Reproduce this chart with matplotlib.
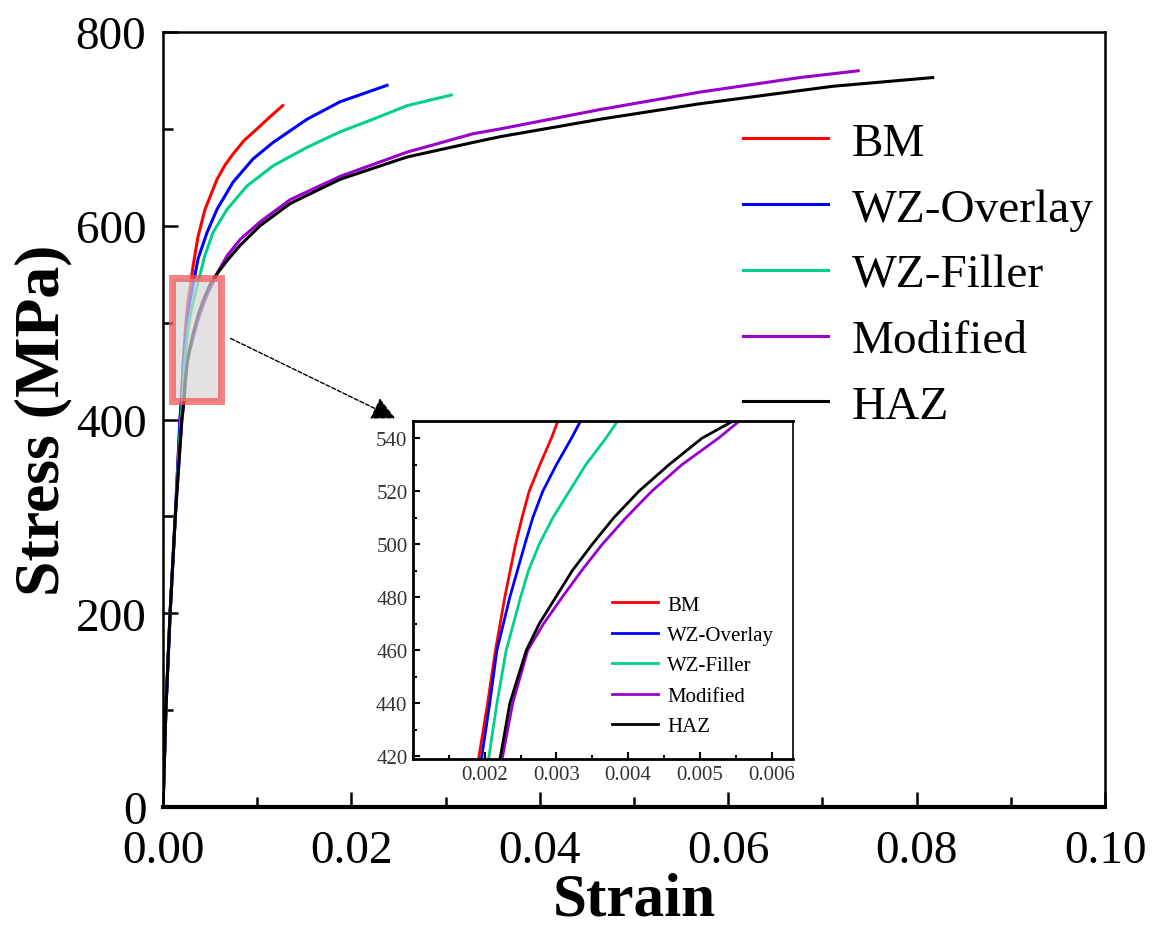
import matplotlib
matplotlib.use("Agg")
import matplotlib.pyplot as plt
from matplotlib.patches import Rectangle
from matplotlib.ticker import MultipleLocator

plt.rcParams['font.family'] = ['Liberation Serif', 'DejaVu Serif']

# series data: strain (-) and stress (MPa)
labels = ['BM', 'WZ-Overlay', 'WZ-Filler', 'Modified', 'HAZ']
colors = ['#ff0000', '#0000ff', '#00d08a', '#9900cc', '#000000']

bm_strain = [0, 0.0003, 0.00075, 0.0013, 0.0018, 0.00192, 0.00204, 0.00215, 0.00228,
             0.00243, 0.00252, 0.00262, 0.00277, 0.00293, 0.00318, 0.00372, 0.00446,
             0.00573, 0.0066, 0.00743, 0.0086, 0.00998, 0.0113, 0.0127]
bm_stress = [0, 100, 200, 300, 400, 420, 440, 460, 480, 500, 510, 520, 530, 540, 558,
             589, 617, 648, 663, 674, 688, 700, 712, 724]

ov_strain = [0, 0.0003, 0.00075, 0.0013, 0.0018, 0.00196, 0.00207, 0.00217, 0.00235,
             0.00256, 0.00267, 0.00281, 0.003, 0.00321, 0.00372, 0.00467, 0.00573,
             0.00743, 0.00955, 0.01168, 0.01529, 0.01879, 0.02378]
ov_stress = [0, 100, 200, 300, 400, 420, 440, 460, 480, 500, 510, 520, 530, 540, 566,
             593, 617, 645, 669, 686, 710, 728, 745]

fi_strain = [0, 0.0003, 0.00075, 0.0013, 0.0019, 0.00206, 0.00217, 0.0023, 0.0025,
             0.00261, 0.00276, 0.00295, 0.00318, 0.00341, 0.00369, 0.0044, 0.0053,
             0.0068, 0.0089, 0.0117, 0.0153, 0.0188, 0.0223, 0.0259, 0.0306]
fi_stress = [0, 100, 200, 300, 400, 420, 440, 460, 480, 490, 500, 510, 520, 530, 540,
             568, 593, 617, 641, 662, 681, 697, 710, 724, 735]

mo_strain = [0, 0.0003, 0.00075, 0.0013, 0.002, 0.00225, 0.00239, 0.0026, 0.00282,
             0.00308, 0.00335, 0.00364, 0.00397, 0.00433, 0.00475, 0.00526, 0.0058,
             0.0068, 0.0082, 0.0103, 0.0135, 0.0188, 0.0259, 0.0329, 0.0358, 0.0464,
             0.057, 0.0676, 0.0738]
mo_stress = [0, 100, 200, 300, 400, 420, 440, 460, 470, 480, 490, 500, 510, 520, 530,
             540, 552, 569, 586, 604, 627, 651, 676, 695, 700, 720, 738, 753, 760]

haz_strain = [0, 0.0003, 0.00075, 0.0013, 0.002, 0.00222, 0.00235, 0.00258, 0.00276,
              0.00299, 0.00322, 0.0035, 0.0038, 0.00415, 0.00457, 0.00503, 0.0057,
              0.0068, 0.0082, 0.0103, 0.0135, 0.0188, 0.0259, 0.0329, 0.0358, 0.0464,
              0.057, 0.0711, 0.0817]
haz_stress = [0, 100, 200, 300, 400, 420, 440, 460, 470, 480, 490, 500, 510, 520, 530,
              540, 550, 564, 580, 600, 623, 648, 671, 686, 692, 710, 726, 744, 753]

strains = [bm_strain, ov_strain, fi_strain, mo_strain, haz_strain]
stresses = [bm_stress, ov_stress, fi_stress, mo_stress, haz_stress]

# zoom window
zoom_x = (0.001, 0.0063)
zoom_y = (419, 546.5)

fig = plt.figure(figsize=(11.53, 9.28), dpi=100)
ax = fig.add_axes([0.1414, 0.1293, 0.817, 0.8351])

for xs, ys, c, lab in zip(strains, stresses, colors, labels):
    ax.plot(xs, ys, color=c, lw=2.2, label=lab)

ax.set_xlim(0, 0.10)
ax.set_ylim(0, 800)
ax.xaxis.set_major_locator(MultipleLocator(0.02))
ax.xaxis.set_minor_locator(MultipleLocator(0.01))
ax.yaxis.set_major_locator(MultipleLocator(200))
ax.yaxis.set_minor_locator(MultipleLocator(100))
ax.xaxis.set_major_formatter(plt.FuncFormatter(lambda v, p: f'{v:.2f}'))
ax.tick_params(which='both', direction='in', top=False, right=False, width=1.8)
ax.tick_params(which='major', length=11, labelsize=34)
ax.tick_params(which='minor', length=7)
ax.tick_params(axis='x', pad=16)
ax.tick_params(axis='y', pad=12)
for s in ax.spines.values():
    s.set_linewidth(1.8)
ax.spines['bottom'].set_linewidth(3)

ax.set_xlabel('Strain', fontsize=44, fontweight='bold', labelpad=0)
ax.set_ylabel('Stress (MPa)', fontsize=46, fontweight='bold', labelpad=2)

ax.legend(loc='upper left', bbox_to_anchor=(0.6157, 0.884), frameon=False,
          fontsize=34, handlelength=1.8, handletextpad=0.5, labelspacing=0.48,
          borderaxespad=0, borderpad=0)

# highlighted zoom region
ax.add_patch(Rectangle((zoom_x[0], zoom_y[0]), 0.0062 - zoom_x[0], zoom_y[1] - zoom_y[0],
                       facecolor=(0.84, 0.84, 0.84, 0.7),
                       edgecolor=(0.95, 0.35, 0.35, 0.75), lw=5, zorder=5))

ax.annotate('', xy=(0.0249, 400), xytext=(0.0069, 485),
            arrowprops=dict(arrowstyle='-|>', color='k', lw=1.0,
                            linestyle=(0, (3, 1.5)), mutation_scale=36))

# inset
ins = fig.add_axes([0.3582, 0.181, 0.3296, 0.3643])
for xs, ys, c, lab in zip(strains, stresses, colors, labels):
    ins.plot(xs, ys, color=c, lw=2.0, label=lab)
ins.set_xlim(*zoom_x)
ins.set_ylim(*zoom_y)
ins.xaxis.set_major_locator(MultipleLocator(0.001))
ins.xaxis.set_minor_locator(MultipleLocator(0.0005))
ins.yaxis.set_major_locator(MultipleLocator(20))
ins.yaxis.set_minor_locator(MultipleLocator(10))
ins.xaxis.set_major_formatter(plt.FuncFormatter(
    lambda v, p: f'{v:.3f}' if v > 0.0015 else ''))
ins.tick_params(which='both', direction='in', top=False, right=False, width=1.5,
                labelsize=15, colors='k', labelcolor='#333333')
ins.tick_params(which='major', length=5, pad=4)
ins.tick_params(which='minor', length=3)
for s in ins.spines.values():
    s.set_linewidth(2)
ins.spines['right'].set_linewidth(1.2)
ins.legend(loc='upper left', bbox_to_anchor=(0.524, 0.485), frameon=False,
           fontsize=15, handlelength=2.2, handletextpad=0.45, labelspacing=0.52,
           borderaxespad=0, borderpad=0)

fig.savefig('out.png', dpi=100)
